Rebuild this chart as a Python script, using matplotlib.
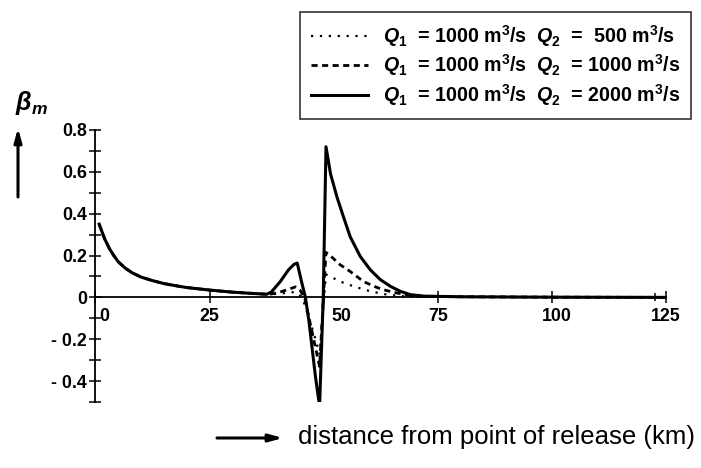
import matplotlib
matplotlib.use("Agg")
import matplotlib.pyplot as plt
from matplotlib.transforms import ScaledTranslation

plt.rcParams['font.family'] = ['Liberation Sans', 'DejaVu Sans']
plt.rcParams['font.weight'] = 'bold'
plt.rcParams['mathtext.fontset'] = 'custom'
plt.rcParams['mathtext.rm'] = 'Liberation Sans:bold'
plt.rcParams['mathtext.it'] = 'Liberation Sans:italic:bold'
plt.rcParams['mathtext.bf'] = 'Liberation Sans:bold'

# ---- data ----
x_common = [0.8, 2, 3, 4, 5, 6.5, 8, 10, 12.5, 15, 17.5, 20, 25, 30, 35, 37.5]
y_common = [0.35, 0.28, 0.235, 0.20, 0.17, 0.14, 0.118, 0.097, 0.08, 0.066,
            0.056, 0.047, 0.035, 0.025, 0.018, 0.015]

x_q500 = [38.5, 40.5, 42.5, 44.0, 45.3, 46.5, 47.8, 49.1, 50.5, 53.6, 56.5,
          60.2, 63.9, 67, 70, 80, 100, 125]
y_q500 = [0.015, 0.018, 0.024, 0.025, 0.0, -0.08, -0.17, -0.27, 0.11, 0.076,
          0.053, 0.029, 0.013, 0.006, 0.003, 0.002, 0.001, 0.0]

x_q1000 = [38.5, 40.5, 42.5, 43.8, 44.8, 45.8, 47.0, 48.0, 49.1, 50.5, 51.4,
           53.6, 55.8, 58.7, 61, 63, 66, 69, 72, 80, 100, 125]
y_q1000 = [0.016, 0.026, 0.04, 0.05, 0.035, 0.0, -0.12, -0.22, -0.33, 0.215,
           0.2, 0.156, 0.124, 0.076, 0.053, 0.037, 0.021, 0.01, 0.005, 0.003,
           0.001, 0.0]

x_q2000 = [38.5, 40.5, 42.3, 43.5, 44.2, 45.2, 46.0, 46.8, 47.5, 48.2, 49.1,
           49.9, 50.5, 51.5, 52.9, 54.3, 55.8, 58, 60.2, 62.4, 64.6, 66.8, 69,
           72, 80, 100, 125]
y_q2000 = [0.025, 0.076, 0.132, 0.158, 0.164, 0.07, 0.0, -0.12, -0.25, -0.38,
           -0.52, 0.0, 0.72, 0.59, 0.48, 0.387, 0.29, 0.196, 0.132, 0.085,
           0.053, 0.029, 0.013, 0.006, 0.003, 0.001, 0.0]

labels = [r"$Q_1$  = 1000 m$^3$/s  $Q_2$  =  500 m$^3$/s",
          r"$Q_1$  = 1000 m$^3$/s  $Q_2$  = 1000 m$^3$/s",
          r"$Q_1$  = 1000 m$^3$/s  $Q_2$  = 2000 m$^3$/s"]

x_ticks = [0, 25, 50, 75, 100, 125]
y_ticks = [-0.4, -0.2, 0, 0.2, 0.4, 0.6, 0.8]
y_ticklabels = ["- 0.4", "- 0.2", "0", "0.2", "0.4", "0.6", "0.8"]

# ---- figure ----
W, H = 701, 468
fig = plt.figure(figsize=(W / 100, H / 100), dpi=100)
ax = fig.add_axes([95.5 / W, 1 - 402 / H, (666 - 95.5) / W, (402 - 130) / H])

ax.plot(x_common + x_q500, y_common + y_q500, color='black', lw=1.6,
        linestyle=(0, (1, 3)), label=labels[0])
ax.plot(x_common + x_q1000, y_common + y_q1000, color='black', lw=2.0,
        linestyle=(0, (2.2, 1.6)), label=labels[1])
ax.plot(x_common + x_q2000, y_common + y_q2000, color='black', lw=2.2,
        linestyle='-', label=labels[2])

ax.set_xlim(0, 125)
ax.set_ylim(-0.5, 0.8)
ax.spines['top'].set_visible(False)
ax.spines['right'].set_visible(False)
ax.spines['left'].set_position(('data', 0))
ax.spines['bottom'].set_position(('data', 0))
ax.spines['left'].set_linewidth(1.3)
ax.spines['bottom'].set_linewidth(1.3)

ax.set_xticks(x_ticks)
ax.set_xticklabels([str(v) for v in x_ticks])
ax.set_xticks([122.5], minor=True)
ax.set_yticks(y_ticks)
ax.set_yticklabels(y_ticklabels)
ax.set_yticks([-0.5, -0.3, -0.1, 0.1, 0.3, 0.5, 0.7], minor=True)
ax.tick_params(axis='both', which='both', direction='inout', width=1.1)
ax.tick_params(axis='y', which='major', length=8, pad=2, labelsize=12.8)
ax.tick_params(axis='y', which='minor', length=8)
ax.tick_params(axis='x', which='major', length=8, pad=4, labelsize=12.8)
ax.tick_params(axis='x', which='minor', length=6)

dpi_scale = fig.dpi_scale_trans
offsets = {0: 8.5, 50: 18, 100: 5}
for lab, v in zip(ax.get_xticklabels(), x_ticks):
    if v in offsets:
        lab.set_transform(lab.get_transform() + ScaledTranslation(offsets[v] / 100, 0, dpi_scale))

leg = ax.legend(loc='upper left', bbox_to_anchor=(300 / W, 1 - 12 / H),
                bbox_transform=fig.transFigure, fontsize=14.1, frameon=True,
                fancybox=False, edgecolor='black', borderaxespad=0,
                handlelength=2.9, handletextpad=0.8, borderpad=0.55,
                labelspacing=0.2)
leg.get_frame().set_linewidth(1.2)

# axis annotations
fig.text(15 / W, 1 - 103 / H, r"$\beta_m$", fontsize=18, ha='left', va='center')
ax.annotate("", xy=(18, H - 128), xytext=(18, H - 197), xycoords='figure pixels',
            textcoords='figure pixels',
            arrowprops=dict(arrowstyle='-|>,head_length=0.8,head_width=0.22',
                            lw=2.2, color='black', shrinkA=0, shrinkB=0))
ax.annotate("", xy=(283, H - 438), xytext=(217, H - 438), xycoords='figure pixels',
            textcoords='figure pixels',
            arrowprops=dict(arrowstyle='-|>,head_length=0.8,head_width=0.22',
                            lw=2.2, color='black', shrinkA=0, shrinkB=0))
fig.text(298 / W, 1 - 437 / H, "distance from point of release (km)",
         fontsize=18.5, fontweight='normal', ha='left', va='center')

fig.savefig("out.png", dpi=100)
